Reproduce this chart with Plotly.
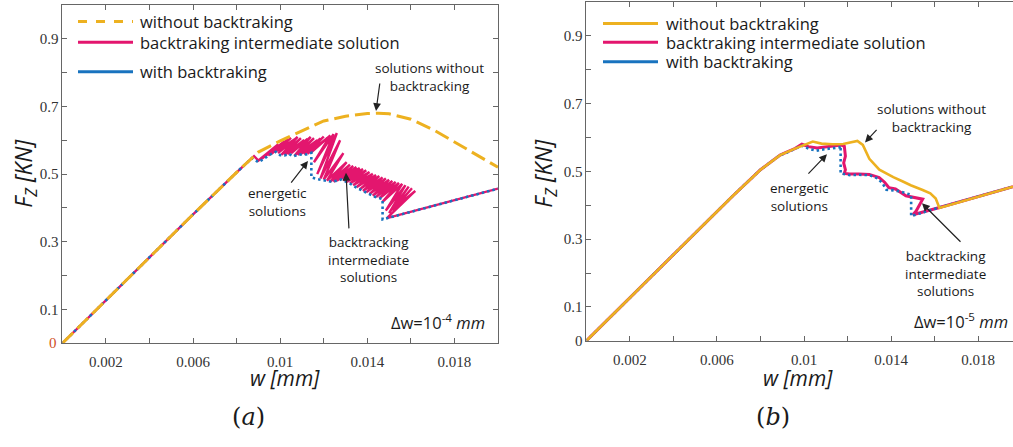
import plotly.graph_objects as go

W, H = 1013, 447
YEL = "#EDB120"
PINK = "#E3166E"
BLUE = "#1873BF"
AX = "#666666"

# ---------------- panel (a) data ----------------
a_yel_w = [0, 0.002, 0.004, 0.006, 0.008, 0.009, 0.010, 0.011, 0.012, 0.013, 0.0135, 0.014, 0.0145, 0.015, 0.016, 0.017, 0.018, 0.019, 0.020]
a_yel_f = [0, 0.128, 0.255, 0.381, 0.505, 0.565, 0.598, 0.627, 0.657, 0.671, 0.676, 0.679, 0.680, 0.678, 0.662, 0.632, 0.595, 0.558, 0.520]

a_blue_w = [0, 0.002, 0.004, 0.006, 0.008, 0.0087, 0.0090, 0.0093, 0.0096, 0.0098, 0.0100, 0.0102, 0.0104, 0.0106, 0.0108, 0.0110, 0.0112, 0.01143, 0.01143,
            0.0117, 0.0120, 0.0124, 0.0128, 0.0130, 0.0132, 0.0135, 0.0139, 0.0143, 0.0147, 0.0147, 0.0200]
a_blue_f = [0, 0.128, 0.255, 0.381, 0.505, 0.547, 0.535, 0.548, 0.560, 0.566, 0.556, 0.555, 0.560, 0.552, 0.557, 0.558, 0.558, 0.563, 0.490,
            0.485, 0.482, 0.477, 0.484, 0.478, 0.472, 0.460, 0.446, 0.434, 0.426, 0.366, 0.457]

a_pink_start_w = [0, 0.002, 0.004, 0.006, 0.008, 0.0088]
a_pink_start_f = [0, 0.128, 0.255, 0.381, 0.505, 0.553]
zig_low_w = [0.00900, 0.00915, 0.00930, 0.00945, 0.00960, 0.00975, 0.00990, 0.01005, 0.01020, 0.01035, 0.01050,
             0.01065, 0.01080, 0.01095, 0.01110, 0.01125, 0.01140, 0.01155, 0.01170, 0.01185, 0.01200, 0.01215,
             0.01230, 0.01245, 0.01260, 0.01275, 0.01290, 0.01305, 0.01320, 0.01335, 0.01350, 0.01365, 0.01380,
             0.01395, 0.01410, 0.01425, 0.01440, 0.01455, 0.01470, 0.01485, 0.01500, 0.01515, 0.01530]
zig_low_f = [0.540, 0.545, 0.550, 0.555, 0.560, 0.565, 0.562, 0.557, 0.556, 0.559, 0.561,
             0.554, 0.557, 0.559, 0.558, 0.560, 0.563, 0.535, 0.500, 0.487, 0.484, 0.481,
             0.478, 0.477, 0.480, 0.485, 0.481, 0.477, 0.472, 0.467, 0.461, 0.455, 0.450,
             0.446, 0.441, 0.436, 0.432, 0.428, 0.418, 0.392, 0.385, 0.393, 0.402]
zig_high_w = [0.00990, 0.01005, 0.01020, 0.01035, 0.01050, 0.01065, 0.01080, 0.01095, 0.01110, 0.01125, 0.01140,
              0.01155, 0.01170, 0.01185, 0.01200, 0.01215, 0.01230, 0.01245, 0.01260, 0.01275, 0.01290, 0.01305,
              0.01320, 0.01335, 0.01350, 0.01365, 0.01380, 0.01395, 0.01410, 0.01425, 0.01440, 0.01455, 0.01470,
              0.01485, 0.01500, 0.01515, 0.01530, 0.01545, 0.01560, 0.01575, 0.01590, 0.01605, 0.01620]
zig_high_f = [0.588, 0.592, 0.597, 0.603, 0.607, 0.602, 0.610, 0.606, 0.601, 0.604, 0.610,
              0.606, 0.600, 0.605, 0.611, 0.606, 0.614, 0.618, 0.621, 0.600, 0.562, 0.535,
              0.528, 0.524, 0.521, 0.518, 0.515, 0.511, 0.506, 0.501, 0.497, 0.494, 0.490,
              0.487, 0.483, 0.480, 0.477, 0.474, 0.471, 0.467, 0.463, 0.458, 0.450]
a_pink_end_w = [0.0149, 0.0200]
a_pink_end_f = [0.370, 0.457]

# ---------------- panel (b) data ----------------
b_yel_w = [0, 0.0040, 0.0067, 0.0080, 0.0089, 0.0095, 0.0100, 0.0104, 0.0108, 0.0113, 0.0118, 0.0122, 0.01245, 0.0127, 0.0130, 0.01346,
           0.0138, 0.0141, 0.01454, 0.0149, 0.01545, 0.0158, 0.01605, 0.01622, 0.0196]
b_yel_f = [0, 0.254, 0.426, 0.505, 0.548, 0.565, 0.578, 0.588, 0.582, 0.580, 0.581, 0.587, 0.590, 0.578, 0.537, 0.505,
           0.492, 0.483, 0.470, 0.459, 0.445, 0.435, 0.420, 0.392, 0.455]

b_blue_w = [0, 0.0040, 0.0067, 0.0080, 0.0089, 0.0091, 0.0095, 0.0099, 0.01025, 0.01056, 0.0108, 0.01102, 0.0113, 0.01163, 0.01168, 0.01168,
            0.0121, 0.0125, 0.0130, 0.01339, 0.0136, 0.01378, 0.0141, 0.01438, 0.01492, 0.01492, 0.01614, 0.0196]
b_blue_f = [0, 0.254, 0.426, 0.505, 0.548, 0.552, 0.563, 0.576, 0.566, 0.561, 0.564, 0.566, 0.568, 0.571, 0.576, 0.494,
            0.489, 0.490, 0.489, 0.479, 0.465, 0.446, 0.444, 0.441, 0.431, 0.368, 0.392, 0.455]

b_pink_w = [0, 0.0040, 0.0067, 0.0080, 0.0089, 0.0092, 0.0096, 0.0099, 0.0102, 0.0106, 0.0110, 0.0114, 0.0117, 0.01185, 0.0119, 0.01182,
            0.0119, 0.01185, 0.0121, 0.0125, 0.0130, 0.01345, 0.0137, 0.0139, 0.0142, 0.01468, 0.01545, 0.01515, 0.0150, 0.01614, 0.0196]
b_pink_f = [0, 0.254, 0.426, 0.505, 0.548, 0.557, 0.568, 0.580, 0.573, 0.569, 0.572, 0.574, 0.578, 0.574, 0.545, 0.525,
            0.505, 0.494, 0.492, 0.492, 0.491, 0.482, 0.468, 0.452, 0.448, 0.428, 0.418, 0.383, 0.372, 0.392, 0.455]

x_tickvals = [0.002, 0.004, 0.006, 0.008, 0.010, 0.012, 0.014, 0.016, 0.018, 0.020]
x_ticktext = ["0.002", "", "0.006", "", "0.01", "", "0.014", "", "0.018", ""]
y_tickvals = [0, 0.1, 0.2, 0.3, 0.4, 0.5, 0.6, 0.7, 0.8, 0.9, 1.0]
y_ticktext_a = ["", "0.1", "", "0.3", "", "0.5", "", "0.7", "", "0.9", ""]
y_ticktext_b = ["0", "0.1", "", "0.3", "", "0.5", "", "0.7", "", "0.9", ""]

legend_labels = ["without backtraking", "backtraking intermediate solution", "with backtraking"]

# build zigzag path for panel (a)
a_pink_w = list(a_pink_start_w)
a_pink_f = list(a_pink_start_f)
for lw, lf, hw, hf in zip(zig_low_w, zig_low_f, zig_high_w, zig_high_f):
    a_pink_w += [lw, hw]
    a_pink_f += [lf, hf]
a_pink_w += a_pink_end_w
a_pink_f += a_pink_end_f


def px(x):
    return x / W


def py(y):
    return 1 - y / H


fig = go.Figure()
# panel a
fig.add_trace(go.Scatter(x=a_pink_w, y=a_pink_f, mode="lines", line=dict(color=PINK, width=2.4), xaxis="x", yaxis="y"))
fig.add_trace(go.Scatter(x=a_blue_w, y=a_blue_f, mode="lines", line=dict(color=BLUE, width=2.6, dash="2.5px,3px"), xaxis="x", yaxis="y"))
fig.add_trace(go.Scatter(x=a_yel_w, y=a_yel_f, mode="lines", line=dict(color=YEL, width=3, dash="15px,6px"), xaxis="x", yaxis="y"))
# panel b
fig.add_trace(go.Scatter(x=b_pink_w, y=b_pink_f, mode="lines", line=dict(color=PINK, width=3), xaxis="x2", yaxis="y2"))
fig.add_trace(go.Scatter(x=b_blue_w, y=b_blue_f, mode="lines", line=dict(color=BLUE, width=2.6, dash="2.5px,3px"), xaxis="x2", yaxis="y2"))
fig.add_trace(go.Scatter(x=b_yel_w, y=b_yel_f, mode="lines", line=dict(color=YEL, width=2.6), xaxis="x2", yaxis="y2"))

tickfont = dict(family="Liberation Serif", size=15, color="#333333")
common_x = dict(tickvals=x_tickvals, ticktext=x_ticktext, ticks="inside", ticklen=5, tickcolor=AX, ticklabelstandoff=5,
                showline=True, linecolor=AX, linewidth=1, showgrid=False, zeroline=False, tickfont=tickfont)
common_y = dict(tickvals=y_tickvals, ticks="inside", ticklen=5, tickcolor=AX, range=[0, 1],
                showline=True, linecolor=AX, linewidth=1, showgrid=False, zeroline=False, tickfont=tickfont)

fig.update_layout(
    width=W, height=H, margin=dict(l=0, r=0, t=0, b=0),
    paper_bgcolor="white", plot_bgcolor="white", showlegend=False,
    xaxis=dict(domain=[62.4 / W, 498 / W], range=[0, 0.02], anchor="y", mirror="ticks", **common_x),
    yaxis=dict(domain=[py(349.5), py(5)], anchor="x", mirror="ticks", ticktext=y_ticktext_a, **common_y),
    xaxis2=dict(domain=[586.4 / W, 1.0], range=[0, 0.0196], anchor="y2", mirror="ticks", **common_x),
    yaxis2=dict(domain=[py(347), py(2)], anchor="x2", mirror=False, ticktext=y_ticktext_b, **common_y),
)

shapes = []
annos = []
SANS = "Open Sans"
TXT = "#1a1a1a"

# legends
for (x0, x1, tx, rows, yel_dash) in [(78, 133, 139, [22, 43, 73], "dash"), (603, 658, 665, [24, 43, 63], "solid")]:
    cols = [YEL, PINK, BLUE]
    for i, (c, yy) in enumerate(zip(cols, rows)):
        dash = yel_dash if i == 0 else "solid"
        shapes.append(dict(type="line", xref="paper", yref="paper", x0=px(x0), x1=px(x1), y0=py(yy), y1=py(yy),
                           line=dict(color=c, width=3, dash=dash)))
        annos.append(dict(x=px(tx), y=py(yy), xref="paper", yref="paper", text=legend_labels[i], showarrow=False,
                          xanchor="left", yanchor="middle", borderpad=0,
                          font=dict(family=SANS, size=16.5, color=TXT)))


def note(text, cx, cy, size=13.5, xanchor="center"):
    annos.append(dict(x=px(cx), y=py(cy), xref="paper", yref="paper", text=text, showarrow=False,
                      xanchor=xanchor, yanchor="middle", align="center", font=dict(family=SANS, size=size, color=TXT)))


def arrow(head, tail):
    annos.append(dict(x=px(head[0]), y=py(head[1]), xref="paper", yref="paper", text="", showarrow=True,
                      ax=tail[0] - head[0], ay=tail[1] - head[1], arrowhead=2, arrowsize=1.3, arrowwidth=1.2,
                      arrowcolor="#222222", standoff=0, startstandoff=0))


note("solutions without<br>backtracking", 429, 78)
note("energetic<br>solutions", 277, 206)
note("backtracking<br>intermediate<br>solutions", 368, 264)
note("\u0394w=10<sup>-4</sup> <i>mm</i>", 487, 328, size=16.5, xanchor="right")
arrow((376, 113), (380, 84))
arrow((308, 164), (290, 187))
arrow((346, 176), (349, 233))

note("solutions without<br>backtracking", 931, 120)
note("energetic<br>solutions", 799, 201)
note("backtracking<br>intermediate<br>solutions", 945, 278)
note("\u0394w=10<sup>-5</sup> <i>mm</i>", 912, 327, size=16.5, xanchor="left")
arrow((865, 145), (878, 131))
arrow((827, 157), (807, 178))
arrow((922, 207), (962, 247))

# axis titles
for cx in (285, 798):
    annos.append(dict(x=px(cx), y=py(385), xref="paper", yref="paper", text="<i>w [mm]</i>", showarrow=False,
                      xanchor="center", yanchor="middle", borderpad=0, font=dict(family=SANS, size=21, color=TXT)))
for cx in (25, 545):
    annos.append(dict(x=px(cx), y=py(177), xref="paper", yref="paper", text="<i>F<sub>Z</sub> [KN]</i>",
                      showarrow=False, textangle=-90, xanchor="center", yanchor="middle",
                      font=dict(family=SANS, size=23, color=TXT)))
# orange zero label on panel (a)
annos.append(dict(x=px(53), y=py(349), xref="paper", yref="paper", text="0", showarrow=False,
                  xanchor="center", yanchor="middle", font=dict(family="Liberation Serif", size=15, color="#D0501E")))
# panel captions
for cx, lab in ((248, "a"), (773, "b")):
    annos.append(dict(x=px(cx), y=py(425), xref="paper", yref="paper", text="(<i>%s</i>)" % lab, showarrow=False,
                      xanchor="center", yanchor="middle", font=dict(family="DejaVu Serif", size=24, color=TXT)))

fig.update_layout(shapes=shapes, annotations=annos)
fig.write_html("out.html")
